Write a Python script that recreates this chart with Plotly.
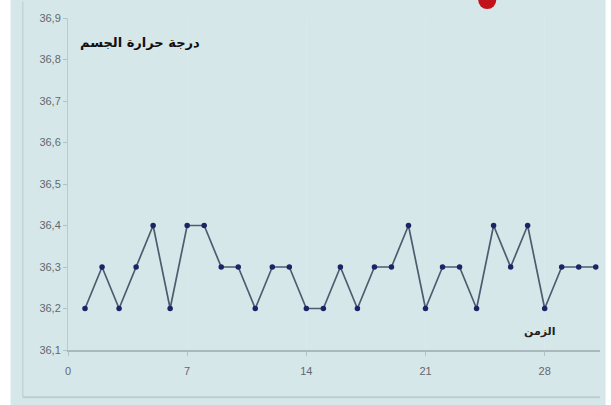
import plotly.graph_objects as go

days = list(range(1, 32))
temps = [36.2, 36.3, 36.2, 36.3, 36.4, 36.2, 36.4, 36.4, 36.3, 36.3,
         36.2, 36.3, 36.3, 36.2, 36.2, 36.3, 36.2, 36.3, 36.3, 36.4,
         36.2, 36.3, 36.3, 36.2, 36.4, 36.3, 36.4, 36.2, 36.3, 36.3, 36.3]
x_ticks = [0, 7, 14, 21, 28]
y_ticks = [36.1, 36.2, 36.3, 36.4, 36.5, 36.6, 36.7, 36.8, 36.9]
y_title = "درجة حرارة الجسم"
x_title = "الزمن"

bg = "#d6e7ea"

fig = go.Figure()
fig.add_trace(go.Scatter(
    x=days, y=temps, mode="lines+markers",
    line=dict(color="#4f5b6e", width=1.7),
    marker=dict(color="#1c2366", size=5.5),
    showlegend=False, hoverinfo="skip",
))

fig.update_layout(
    width=611, height=405,
    margin=dict(l=68, r=11, t=18, b=55),
    paper_bgcolor=bg, plot_bgcolor=bg,
    separators=", ",
    font=dict(family="Liberation Sans, Arial, sans-serif", color="#62686c", size=11),
    xaxis=dict(
        range=[0, 31.25], tickvals=x_ticks, ticktext=[str(v) for v in x_ticks],
        showgrid=True, gridcolor="#d9e9ec", gridwidth=1,
        zeroline=False, showline=True, linecolor="#a9b8bc", linewidth=2,
        ticks="outside", ticklen=4, tickcolor="#b3c1c5", ticklabelstandoff=6,
    ),
    yaxis=dict(
        range=[36.1, 36.9], tickvals=y_ticks, tickformat=".1f",
        showgrid=False, zeroline=False, showline=True, linecolor="#bccacd", linewidth=1,
        ticks="outside", ticklen=4, tickcolor="#b3c1c5",
    ),
    shapes=[
        dict(type="rect", xref="paper", yref="paper", x0=1.0105, x1=1.05, y0=-0.3, y1=1.2,
             fillcolor="white", line=dict(width=0), layer="above"),
        dict(type="rect", xref="paper", yref="paper", x0=-0.2, x1=-0.108, y0=-0.3, y1=1.2,
             fillcolor="white", line=dict(width=0), layer="above"),
        dict(type="line", xref="paper", yref="paper", x0=-0.085, x1=1.0, y0=-0.142, y1=-0.142,
             line=dict(color="#bfcdd0", width=2)),
        dict(type="line", xref="paper", yref="paper", x0=-0.085, x1=-0.085, y0=-0.142, y1=1.05,
             line=dict(color="#c6d3d6", width=1.5)),
        dict(type="circle", xref="paper", yref="paper", x0=0.771, x1=0.805, y0=1.027, y1=1.081,
             fillcolor="#c0141a", line=dict(width=0), layer="above"),
    ],
    annotations=[
        dict(text="<b>" + y_title + "</b>", xref="paper", yref="paper", x=0.135, y=0.927,
             showarrow=False, font=dict(family="DejaVu Sans", size=13, color="#111111"),
             xanchor="center", yanchor="middle"),
        dict(text="<b>" + x_title + "</b>", xref="x", yref="paper", x=27.7, y=0.055,
             showarrow=False, font=dict(family="DejaVu Sans", size=11, color="#222222"),
             xanchor="center", yanchor="middle"),
    ],
)

fig.write_html("out.html", config={"displayModeBar": False},
               post_script="document.body.style.margin='0';document.body.style.overflow='hidden';")
